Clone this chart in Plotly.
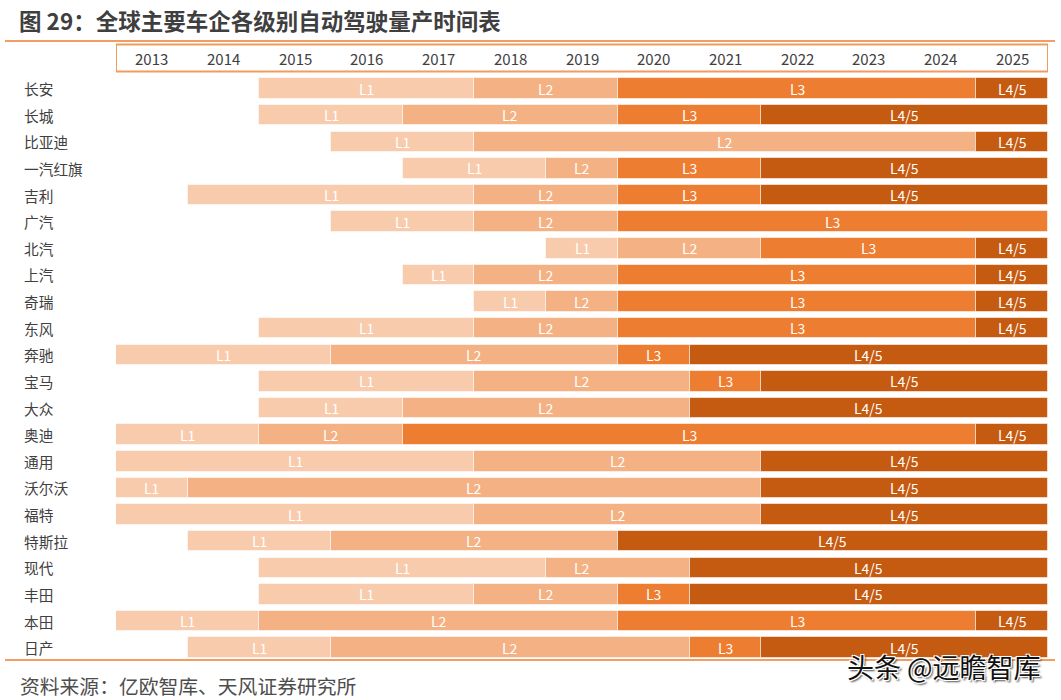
import plotly.graph_objects as go

# ---------------- data ----------------
YEARS = list(range(2013, 2026))
LEVELS = ["L1", "L2", "L3", "L4/5"]
COMPANIES = ["长安", "长城", "比亚迪", "一汽红旗", "吉利", "广汽", "北汽", "上汽", "奇瑞", "东风",
             "奔驰", "宝马", "大众", "奥迪", "通用", "沃尔沃", "福特", "特斯拉", "现代", "丰田",
             "本田", "日产"]
# first year of each level for each company (None = level skipped); last level runs through 2025
L1_START = [2015, 2015, 2016, 2017, 2014, 2016, 2019, 2017, 2018, 2015,
            2013, 2015, 2015, 2013, 2013, 2013, 2013, 2014, 2015, 2015, 2013, 2014]
L2_START = [2018, 2017, 2018, 2019, 2018, 2018, 2020, 2018, 2019, 2018,
            2016, 2018, 2017, 2015, 2018, 2014, 2018, 2016, 2019, 2018, 2015, 2016]
L3_START = [2020, 2020, None, 2020, 2020, 2020, 2022, 2020, 2020, 2020,
            2020, 2021, None, 2017, None, None, None, None, None, 2020, 2020, 2021]
L45_START = [2025, 2022, 2025, 2022, 2022, None, 2025, 2025, 2025, 2025,
             2021, 2022, 2021, 2025, 2022, 2022, 2022, 2020, 2021, 2021, 2025, 2022]
END_YEAR = 2026
# label cell override (year column where the label sits, when not centred)
LABEL_CELL = {("现代", "L2"): 2019}

TITLE = "图 29：全球主要车企各级别自动驾驶量产时间表"
SOURCE = "资料来源：亿欧智库、天风证券研究所"
WATERMARK = "头条 @远瞻智库"

# ---------------- styles ----------------
COLORS = {"L1": "#F8CBAD", "L2": "#F4B183", "L3": "#ED7D31", "L4/5": "#C55A11"}
FONT = "Noto Sans CJK SC, Noto Sans, sans-serif"
W, H = 1061, 700
ML, MR, MT, MB = 116, 13, 30, 39
Y_TOP = -2.2
Y_BOT = len(COMPANIES) - 0.5

fig = go.Figure()
starts_all = [L1_START, L2_START, L3_START, L45_START]

annotations = []
for li, lev in enumerate(LEVELS):
    ys, bases, lens = [], [], []
    for ci, comp in enumerate(COMPANIES):
        s = starts_all[li][ci]
        if s is None:
            continue
        e = END_YEAR
        for nxt in starts_all[li + 1:]:
            if nxt[ci] is not None:
                e = nxt[ci]
                break
        ys.append(ci)
        bases.append(s)
        lens.append(e - s)
        if (comp, lev) in LABEL_CELL:
            cx = LABEL_CELL[(comp, lev)] + 0.5
        else:
            cx = (s + e) / 2
        annotations.append(dict(x=cx, y=ci, xref="x", yref="y", text=lev, showarrow=False,
                                font=dict(family=FONT, size=14, color="white"),
                                xanchor="center", yanchor="middle"))
    fig.add_trace(go.Bar(y=ys, x=lens, base=bases, orientation="h", name=lev,
                         marker=dict(color=COLORS[lev], line=dict(color="rgba(255,255,255,0.55)", width=1)),
                         width=0.77, hoverinfo="skip", showlegend=False))

# company labels
for ci, comp in enumerate(COMPANIES):
    annotations.append(dict(x=(22 - ML) / (W - ML - MR), y=ci, xref="paper", yref="y", text=comp,
                            showarrow=False, xanchor="left", yanchor="middle",
                            font=dict(family=FONT, size=14.7, color="#404040")))

# year header
HEAD_Y0, HEAD_Y1 = -1.653, -0.639
for yr in YEARS:
    annotations.append(dict(x=yr + 0.5, y=(HEAD_Y0 + HEAD_Y1) / 2, xref="x", yref="y", text=str(yr),
                            showarrow=False, xanchor="center", yanchor="middle",
                            font=dict(family=FONT, size=15, color="#404040")))

plot_w = W - ML - MR
plot_h = H - MT - MB


def px_x(p):
    return (p - ML) / plot_w


def px_y(p):
    return (H - MB - p) / plot_h


annotations.append(dict(x=px_x(17), y=px_y(20), xref="paper", yref="paper", text="<b>" + TITLE + "</b>",
                        showarrow=False, xanchor="left", yanchor="middle",
                        font=dict(family=FONT, size=22.5, color="#3F3F3F")))
annotations.append(dict(x=px_x(18), y=px_y(685), xref="paper", yref="paper", text=SOURCE,
                        showarrow=False, xanchor="left", yanchor="middle",
                        font=dict(family=FONT, size=19.8, color="#4D4D4D")))
annotations.append(dict(x=px_x(845), y=px_y(666), xref="paper", yref="paper", text=WATERMARK,
                        showarrow=False, xanchor="left", yanchor="middle",
                        font=dict(family=FONT, size=27, color="#111111",
                                  shadow="1px 1px 0 #fff, -1px -1px 0 #fff, 1px -1px 0 #fff, -1px 1px 0 #fff, 2px 2px 2px #444")))

shapes = [
    dict(type="rect", xref="x", yref="y", x0=YEARS[0], x1=END_YEAR, y0=HEAD_Y0, y1=HEAD_Y1,
         line=dict(color="#F19C5E", width=2), fillcolor="rgba(0,0,0,0)"),
    dict(type="line", xref="paper", yref="paper", x0=px_x(5), x1=px_x(1055), y0=px_y(41), y1=px_y(41),
         line=dict(color="#ED7D31", width=1.5)),
    dict(type="line", xref="paper", yref="paper", x0=px_x(5), x1=px_x(1055), y0=px_y(660), y1=px_y(660),
         line=dict(color="#ED7D31", width=1.5), layer="above"),
]

fig.update_layout(
    width=W, height=H, margin=dict(l=ML, r=MR, t=MT, b=MB),
    paper_bgcolor="white", plot_bgcolor="white",
    barmode="overlay", bargap=0,
    xaxis=dict(range=[YEARS[0], END_YEAR], visible=False, fixedrange=True),
    yaxis=dict(range=[Y_BOT, Y_TOP], visible=False, fixedrange=True),
    annotations=annotations, shapes=shapes, showlegend=False,
)

fig.write_html("out.html", config={"displayModeBar": False},
               post_script="document.body.style.margin='0';document.body.style.overflow='hidden';")
